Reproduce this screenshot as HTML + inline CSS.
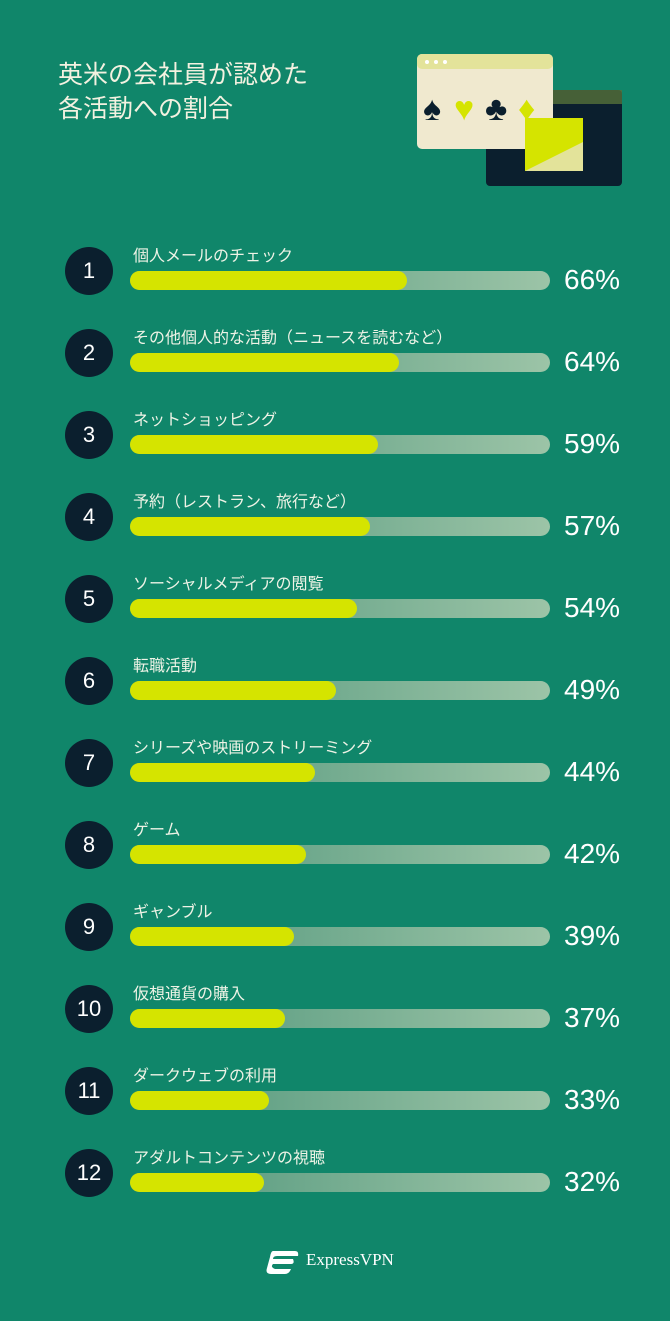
<!DOCTYPE html>
<html><head><meta charset="utf-8"><style>
*{margin:0;padding:0;box-sizing:border-box}
body{width:670px;height:1321px;background:#10866a;position:relative;overflow:hidden;font-family:"Liberation Sans","Noto Sans CJK JP",sans-serif;color:#fff}
.title{position:absolute;left:58px;top:58px;font-family:"Liberation Sans","Noto Sans CJK JP",sans-serif;font-size:25px;line-height:34px;color:#f3f1e0}
.row{position:absolute;left:0;width:670px;height:60px}
.c{position:absolute;left:65px;top:0;width:48px;height:48px;border-radius:50%;background:#0b1f2e;color:#fff;font-size:22px;text-align:center;line-height:48px}
.lb{position:absolute;left:133px;top:-5px;font-size:16px;color:#eef3e6;white-space:nowrap}
.tr{position:absolute;left:130px;top:24px;width:420px;height:19px;border-radius:10px;background:linear-gradient(90deg,#4e957a,#9cc4a7)}
.f{position:absolute;left:0;top:0;height:19px;border-radius:10px;background:#d5e400}
.p{position:absolute;left:564px;top:17px;font-size:28px;color:#fff}
</style></head><body>
<div class="title">英米の会社員が認めた<br>各活動への割合</div>
<svg style="position:absolute;left:400px;top:40px" width="240" height="160" viewBox="0 0 240 160">
<rect x="86" y="50" width="136" height="96" rx="4" fill="#0b1f2e"/>
<rect x="86" y="50" width="136" height="14" fill="#55703a" opacity=".8"/>
<rect x="17" y="14" width="136" height="95" rx="5" fill="#f0e9cf"/>
<rect x="17" y="14" width="136" height="15" rx="5" fill="#e3e39a"/>
<circle cx="27" cy="22" r="2" fill="#fff"/><circle cx="36" cy="22" r="2" fill="#fff"/><circle cx="45" cy="22" r="2" fill="#fff"/>
<text x="23" y="80" font-size="34" fill="#0b1f2e">♠</text>
<text x="54" y="80" font-size="34" fill="#d5e400">♥</text>
<text x="85" y="80" font-size="34" fill="#0b1f2e">♣</text>
<text x="118" y="80" font-size="34" fill="#d5e400">♦</text>
<rect x="125" y="78" width="58" height="53" fill="#d5e400"/>
<path d="M125 78 L183 100 L183 131 L125 131Z" fill="#d5e400"/>
<path d="M125 131 L183 102 L183 131Z" fill="#e3e39a"/>
</svg>
<div class="row" style="top:247px"><div class="c">1</div><div class="lb">個人メールのチェック</div><div class="tr"><div class="f" style="width:277px"></div></div><div class="p">66%</div></div>
<div class="row" style="top:329px"><div class="c">2</div><div class="lb">その他個人的な活動（ニュースを読むなど）</div><div class="tr"><div class="f" style="width:269px"></div></div><div class="p">64%</div></div>
<div class="row" style="top:411px"><div class="c">3</div><div class="lb">ネットショッピング</div><div class="tr"><div class="f" style="width:248px"></div></div><div class="p">59%</div></div>
<div class="row" style="top:493px"><div class="c">4</div><div class="lb">予約（レストラン、旅行など）</div><div class="tr"><div class="f" style="width:240px"></div></div><div class="p">57%</div></div>
<div class="row" style="top:575px"><div class="c">5</div><div class="lb">ソーシャルメディアの閲覧</div><div class="tr"><div class="f" style="width:227px"></div></div><div class="p">54%</div></div>
<div class="row" style="top:657px"><div class="c">6</div><div class="lb">転職活動</div><div class="tr"><div class="f" style="width:206px"></div></div><div class="p">49%</div></div>
<div class="row" style="top:739px"><div class="c">7</div><div class="lb">シリーズや映画のストリーミング</div><div class="tr"><div class="f" style="width:185px"></div></div><div class="p">44%</div></div>
<div class="row" style="top:821px"><div class="c">8</div><div class="lb">ゲーム</div><div class="tr"><div class="f" style="width:176px"></div></div><div class="p">42%</div></div>
<div class="row" style="top:903px"><div class="c">9</div><div class="lb">ギャンブル</div><div class="tr"><div class="f" style="width:164px"></div></div><div class="p">39%</div></div>
<div class="row" style="top:985px"><div class="c">10</div><div class="lb">仮想通貨の購入</div><div class="tr"><div class="f" style="width:155px"></div></div><div class="p">37%</div></div>
<div class="row" style="top:1067px"><div class="c">11</div><div class="lb">ダークウェブの利用</div><div class="tr"><div class="f" style="width:139px"></div></div><div class="p">33%</div></div>
<div class="row" style="top:1149px"><div class="c">12</div><div class="lb">アダルトコンテンツの視聴</div><div class="tr"><div class="f" style="width:134px"></div></div><div class="p">32%</div></div>
<svg style="position:absolute;left:265px;top:1249px" width="36" height="26" viewBox="0 0 36 26"><path d="M8 2 H30 Q34 2 33 7 H12 Q8 7 8 10 H28 Q30 15 26 15 H8 Q5 18 10 20 H26 Q24 25 20 25 H6 Q0 25 2 19 L5 8 Q6 2 8 2Z" fill="#fff"/></svg>
<div style="position:absolute;left:306px;top:1250px;font-family:'Liberation Serif',serif;font-size:17px;color:#fff">ExpressVPN</div>
</body></html>
